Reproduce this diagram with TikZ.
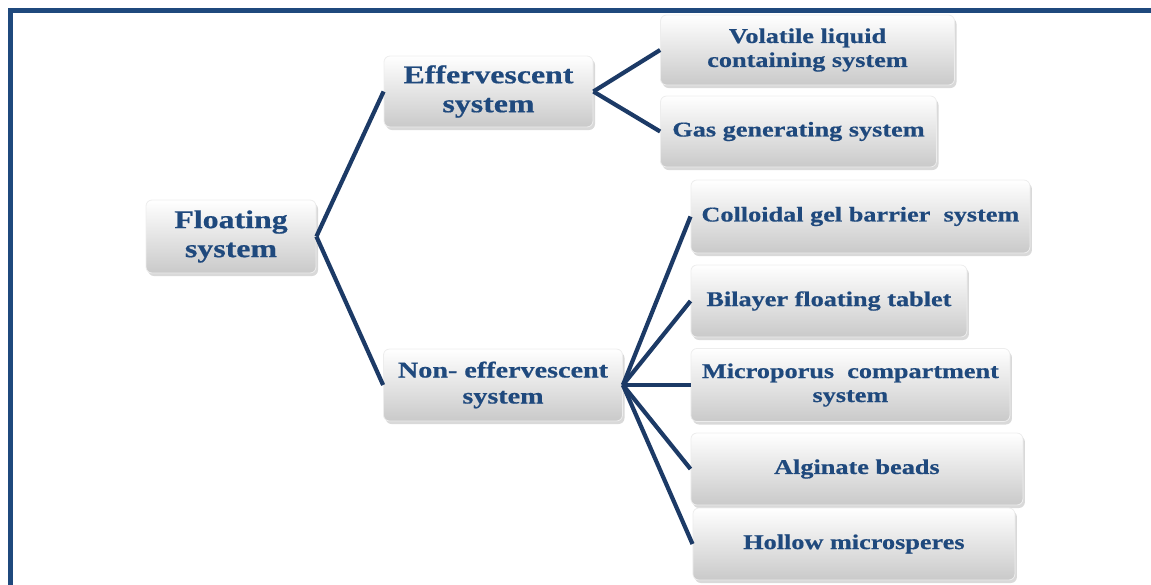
\documentclass[tikz,border=0pt]{standalone}
\usepackage{fontspec}
\setmainfont{Liberation Serif}[FakeStretch=1.25, BoldFeatures={FakeBold=0.6}]
\usepackage{tikz}
\usetikzlibrary{shapes,arrows}
\usetikzlibrary{positioning}
\usetikzlibrary{shadows}
\definecolor{navy}{RGB}{31,73,125}
\definecolor{linenavy}{RGB}{28,58,102}
\tikzstyle{box} = [rectangle, rounded corners=6pt, top color=white,
    bottom color=black!21, draw=black!7, line width=0.8pt, text=navy,
    align=center, inner sep=2pt,
    drop shadow={shadow xshift=2pt, shadow yshift=-3pt, opacity=0.3}]
\tikzstyle{root} = [box, font=\fontsize{25.5}{29}\selectfont\bfseries]
\tikzstyle{leaf} = [box, font=\fontsize{21}{24}\selectfont\bfseries]
\tikzstyle{edge} = [draw=linenavy, line width=4.2pt, -]
\tikzstyle{frame} = [draw=navy, line width=5.5pt]

\begin{document}
\begin{tikzpicture}[x=1pt, y=-1pt]
  \useasboundingbox (0,0) rectangle (1151,584);
  \draw [frame] (1160,10.3) -- (10.3,10.3) -- (10.3,590);

  % Place nodes
  \node [root, minimum width=170pt, minimum height=73pt] (floating) at (231,236.5) {Floating\\system};
  \node [root, minimum width=209pt, minimum height=71pt] (effer) at (488.5,91.5) {Effervescent\\system};
  \node [root, minimum width=239pt, minimum height=72pt,
         font=\fontsize{22.5}{26}\selectfont\bfseries] (noneffer) at (503,385) {Non- effervescent\\system};

  \node [leaf, minimum width=294pt, minimum height=70pt] (volatile) at (807.5,50) {Volatile liquid\\containing system};
  \node [leaf, minimum width=276pt, minimum height=71pt] (gas) at (798.5,131.5) {Gas generating system};

  \node [leaf, anchor=west, minimum width=339pt, minimum height=73pt] (colloid) at (690.5,216.5) {Colloidal gel barrier~ system};
  \node [leaf, anchor=west, minimum width=276pt, minimum height=72pt] (bilayer) at (690.5,301) {Bilayer floating tablet};
  \node [leaf, anchor=west, minimum width=319pt, minimum height=73pt] (micro) at (690.5,385) {Microporus~ compartment\\system};
  \node [leaf, anchor=west, minimum width=332pt, minimum height=72pt] (alginate) at (690.5,469) {Alginate beads};
  \node [leaf, anchor=west, minimum width=322pt, minimum height=72pt] (hollow) at (692.5,544) {Hollow microsperes};

  % Draw edges
  \path [edge] (floating.east) -- (effer.west);
  \path [edge] (floating.east) -- (noneffer.west);

  \path [edge] (effer.east) -- (volatile.west);
  \path [edge] (effer.east) -- (gas.west);

  \path [edge] (noneffer.east) -- (colloid.west);
  \path [edge] (noneffer.east) -- (bilayer.west);
  \path [edge] (noneffer.east) -- (micro.west);
  \path [edge] (noneffer.east) -- (alginate.west);
  \path [edge] (noneffer.east) -- (hollow.west);

\end{tikzpicture}
\end{document}
